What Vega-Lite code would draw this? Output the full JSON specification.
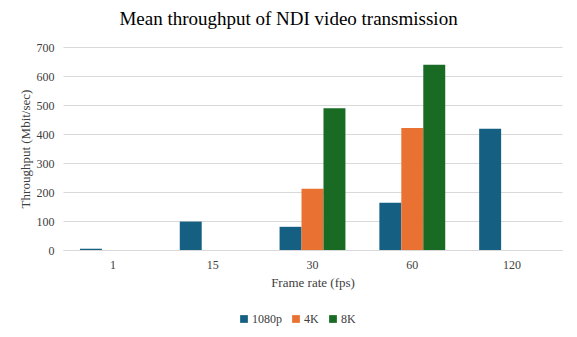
{
  "$schema": "https://vega.github.io/schema/vega-lite/v6.json",
  "autosize": {"type": "none"},
  "width": 499,
  "height": 203,
  "padding": {"left": 63, "top": 47, "right": 15, "bottom": 87},
  "background": "white",
  "title": {
    "text": "Mean throughput of NDI video transmission",
    "font": "Liberation Serif",
    "fontSize": 19,
    "fontWeight": "normal",
    "color": "#000000",
    "anchor": "middle",
    "dx": -24,
    "offset": 12
  },
  "data": {
    "values": [
      {"fps": "1", "res": "1080p", "throughput": 4},
      {"fps": "15", "res": "1080p", "throughput": 98},
      {"fps": "30", "res": "1080p", "throughput": 80},
      {"fps": "30", "res": "4K", "throughput": 211},
      {"fps": "30", "res": "8K", "throughput": 489},
      {"fps": "60", "res": "1080p", "throughput": 163},
      {"fps": "60", "res": "4K", "throughput": 421},
      {"fps": "60", "res": "8K", "throughput": 639},
      {"fps": "120", "res": "1080p", "throughput": 418}
    ]
  },
  "mark": {"type": "bar"},
  "encoding": {
    "x": {
      "field": "fps",
      "type": "nominal",
      "sort": ["1", "15", "30", "60", "120"],
      "scale": {"paddingInner": 0.34, "paddingOuter": 0.17},
      "title": "Frame rate (fps)",
      "axis": {
        "labelAngle": 0,
        "labelFont": "Liberation Serif",
        "labelFontSize": 12,
        "labelColor": "#404040",
        "labelPadding": 9,
        "ticks": false,
        "domainColor": "#D9D9D9",
        "titleFont": "Liberation Serif",
        "titleFontSize": 13,
        "titleFontWeight": "normal",
        "titleColor": "#404040",
        "titlePadding": 6
      }
    },
    "xOffset": {
      "field": "res",
      "type": "nominal",
      "sort": ["1080p", "4K", "8K"],
      "scale": {"paddingInner": 0, "paddingOuter": 0}
    },
    "y": {
      "field": "throughput",
      "type": "quantitative",
      "scale": {"domain": [0, 700]},
      "title": "Throughput (Mbit/sec)",
      "axis": {
        "values": [0, 100, 200, 300, 400, 500, 600, 700],
        "labelFont": "Liberation Serif",
        "labelFontSize": 12,
        "labelColor": "#404040",
        "labelPadding": 9,
        "ticks": false,
        "domain": false,
        "gridColor": "#D9D9D9",
        "titleFont": "Liberation Serif",
        "titleFontSize": 13,
        "titleFontWeight": "normal",
        "titleColor": "#404040",
        "titlePadding": 4
      }
    },
    "color": {
      "field": "res",
      "type": "nominal",
      "sort": ["1080p", "4K", "8K"],
      "scale": {"domain": ["1080p", "4K", "8K"], "range": ["#156082", "#E97132", "#196B24"]},
      "legend": {
        "title": null,
        "orient": "none",
        "direction": "horizontal",
        "legendX": 175,
        "legendY": 266,
        "symbolType": "square",
        "symbolSize": 60,
        "symbolStrokeWidth": 0,
        "labelFont": "Liberation Serif",
        "labelFontSize": 12,
        "labelColor": "#404040",
        "labelOffset": 2,
        "columnPadding": 8
      }
    }
  },
  "config": {
    "font": "Liberation Serif",
    "view": {"stroke": null}
  }
}
